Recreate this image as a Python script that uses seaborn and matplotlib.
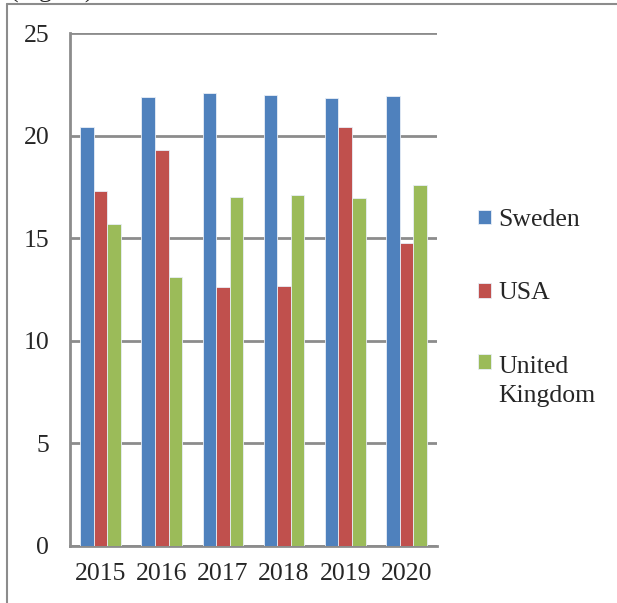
import pandas as pd
import matplotlib.pyplot as plt
import seaborn as sns
import numpy as np
from matplotlib.lines import Line2D
from matplotlib.patches import Rectangle
from matplotlib.legend_handler import HandlerPatch

years = ['2015', '2016', '2017', '2018', '2019', '2020']
sweden = [20.4, 21.9, 22.1, 22.0, 21.85, 21.95]
usa = [17.3, 19.3, 12.6, 12.65, 20.4, 14.75]
uk = [15.7, 13.1, 17.0, 17.1, 16.97, 17.6]
countries = ['Sweden', 'USA', 'United\nKingdom']
colors = ['#4F81BD', '#C0504D', '#9BBB59']

df = pd.DataFrame({'year': years * 3,
                   'value': sweden + usa + uk,
                   'country': [c for c in countries for _ in years]})

sns.set_style('white')
plt.rcParams['font.family'] = ['Liberation Serif', 'DejaVu Serif']
FS = 18.5

W, H = 617, 603
fig = plt.figure(figsize=(W / 100, H / 100), dpi=100)
ax = fig.add_axes([70 / W, 1 - 546 / H, (437 - 70) / W, (546 - 33) / H])

sns.barplot(data=df, x='year', y='value', hue='country', palette=colors,
            saturation=1, width=0.667, gap=0, edgecolor='#e8eef7', linewidth=0.6,
            ax=ax, zorder=3)

ax.set_ylim(0, 25)
ax.set_xlim(-0.5, 5.5)
ax.set_yticks([0, 5, 10, 15, 20, 25])
ax.grid(axis='y', color='#8c8c8c', linewidth=2, zorder=0)
ax.set_axisbelow(True)
ax.set_xlabel('')
ax.set_ylabel('')

# category boundary ticks, labels centred between them
ax.set_xticks(np.arange(-0.5, 6, 1))
ax.set_xticklabels([])
ax.set_xticks(np.arange(6), minor=True)
ax.set_xticklabels(years, minor=True, fontsize=FS)
ax.tick_params(axis='x', which='major', direction='out', length=5, width=1.5,
               color='#8c8c8c')
ax.tick_params(axis='x', which='minor', length=0, pad=12)
ax.tick_params(axis='y', direction='out', length=5, width=1.5, color='#8c8c8c',
               labelsize=FS, pad=10)

for s in ['top', 'right']:
    ax.spines[s].set_visible(False)
for s in ['left', 'bottom']:
    ax.spines[s].set_color('#8c8c8c')
    ax.spines[s].set_linewidth(2)


def first_line_patch(legend, orig_handle, xdescent, ydescent, width, height, fontsize):
    # put the square beside the first line of a two-line label
    off = 0.75 * fontsize if '\n' in orig_handle.get_label() else 0
    return Rectangle((-xdescent, -ydescent + off), width, height)


handles, labels = ax.get_legend_handles_labels()
for h, l in zip(handles, labels):
    h.set_label(l)
leg = ax.legend(handles, labels, loc='upper left', bbox_to_anchor=(478 / W, 1 - 209 / H),
                bbox_transform=fig.transFigure, frameon=False, fontsize=FS,
                borderaxespad=0, borderpad=0,
                handlelength=0.5, handleheight=0.5, handletextpad=0.3, labelspacing=2.0,
                handler_map={h: HandlerPatch(patch_func=first_line_patch) for h in handles})
for t in leg.get_texts():
    t.set_linespacing(1.45)

# outer chart frame
fig.add_artist(Line2D([7 / W, 7 / W], [0, 1 - 4 / H], color='#8c8c8c', lw=1.5))
fig.add_artist(Line2D([7 / W, 1], [1 - 4 / H, 1 - 4 / H], color='#8c8c8c', lw=1.5))
fig.text(10 / W, 1 + 2 / H, '(Figure)', fontsize=FS, va='baseline')

fig.savefig('out.png', dpi=100)
